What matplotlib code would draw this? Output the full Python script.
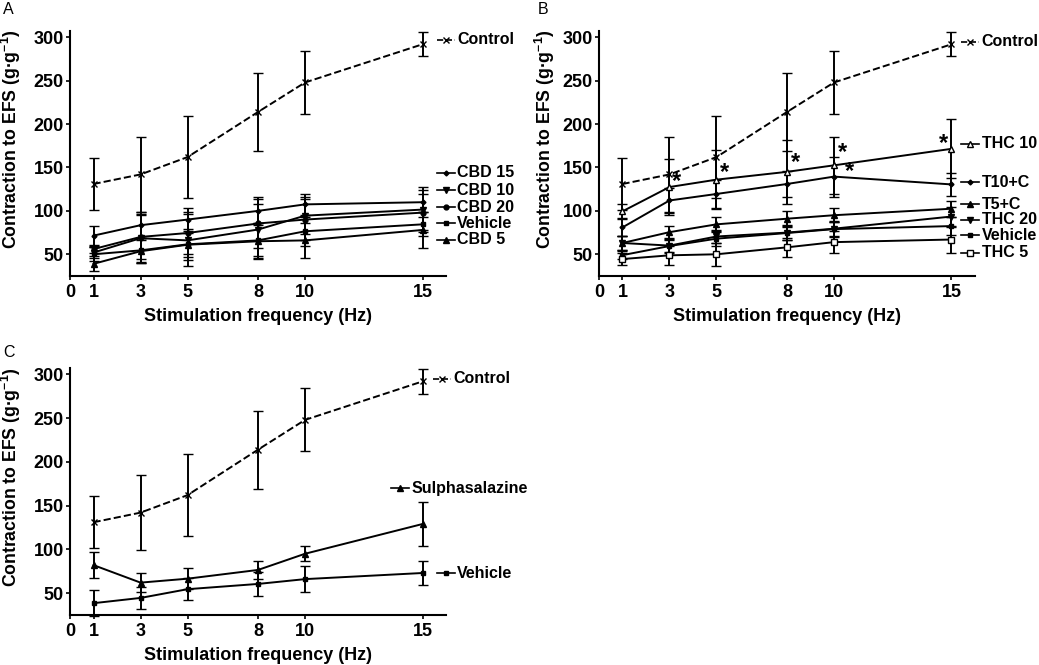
import numpy as np
import matplotlib.pyplot as plt

plt.rcParams['font.family'] = ['Liberation Sans', 'DejaVu Sans']
plt.rcParams['mathtext.fontset'] = 'custom'
plt.rcParams['mathtext.rm'] = 'Liberation Sans:bold'
plt.rcParams['mathtext.bf'] = 'Liberation Sans:bold'
plt.rcParams['mathtext.default'] = 'bf'

# frequencies (Hz)
freq = [1, 3, 5, 8, 10, 15]

# control (same in all panels)
control = [131, 142, 162, 214, 248, 292]
control_err = [29.5, 43, 47, 44.5, 36, 14]

# panel A
cbd15 = [71.5, 83.5, 90, 100, 107.5, 110]
cbd15_err = [11, 15, 13, 16, 12, 17]
cbd10 = [52, 68.5, 66, 78.5, 94.5, 101.5]
cbd10_err = [6, 27, 30, 30, 21, 23]
cbd20 = [56, 70, 74.5, 85.5, 90, 98]
cbd20_err = [4, 26, 24, 28, 24, 22]
veh_a = [50, 54.5, 61.5, 66, 76.5, 84.5]
veh_a_err = [8, 14, 18, 20, 17, 14]
cbd5 = [39, 53.5, 61, 65, 66, 78]
cbd5_err = [8.5, 13, 14, 21, 20, 21]

# panel B
thc10 = [99.5, 127.5, 136, 145, 152.5, 171.5]
thc10_err = [8, 32, 34, 37, 33, 34]
t10c = [81, 112, 119.5, 131, 139.5, 130.5]
t10c_err = [10, 14, 16, 15, 23, 13]
t5c = [63, 75.5, 84.5, 91, 95, 102.5]
t5c_err = [8, 7, 8, 9, 8, 9]
thc20 = [63, 60, 70.5, 75, 79.5, 93.5]
thc20_err = [8, 8, 8, 9, 8, 11]
veh_b = [49, 59.5, 68, 74.5, 79, 82.5]
veh_b_err = [5, 7, 8, 8, 9, 10]
thc5 = [44.5, 48.8, 50, 58, 64, 67]
thc5_err = [7, 11, 13, 11, 13, 15]
# asterisks in B (x, y)
star_x = [3.3, 5.36, 8.38, 10.37, 10.65, 14.64]
star_y = [134, 144.5, 155.5, 167, 145.5, 178]

# panel C
sulpha = [82, 62, 66.5, 76.5, 95, 129]
sulpha_err = [15, 11, 12, 10, 8.5, 25.5]
veh_c = [38.5, 44.5, 54.5, 60.5, 66, 73]
veh_c_err = [14.5, 12.5, 12.5, 13.5, 14.5, 14]

FS = 13
LFS = 11.5
LW = 1.4


def series(ax, y, err, marker, ms=4, mfc='black', ls='-'):
    ax.errorbar(freq, y, yerr=err, color='black', ls=ls, lw=LW, marker=marker,
                ms=ms, mfc=mfc, mec='black', mew=1.0, capsize=3.5,
                elinewidth=1.4, capthick=1.4, clip_on=False)


def key(ax, xk, yv, label, marker, ms=4, mfc='black', ls='-'):
    ax.plot([xk, xk + 0.78], [yv, yv], color='black', ls=ls, lw=1.2, clip_on=False)
    ax.plot([xk + 0.39], [yv], color='black', marker=marker, ms=ms, mfc=mfc,
            mec='black', mew=1.0, clip_on=False)
    ax.text(xk + 0.88, yv, label, ha='left', va='center', fontsize=LFS,
            fontweight='bold')


def style(ax, ylab_x):
    ax.set_xlim(0, 16)
    ax.set_ylim(25, 307)
    ax.set_xticks([0, 1, 3, 5, 8, 10, 15])
    ax.set_yticks([50, 100, 150, 200, 250, 300])
    for s in ['top', 'right']:
        ax.spines[s].set_visible(False)
    for s in ['left', 'bottom']:
        ax.spines[s].set_linewidth(1.5)
    ax.tick_params(width=1.2, length=3, labelsize=FS, pad=1.5)
    ax.tick_params(axis='x', pad=3)
    for t in ax.get_xticklabels() + ax.get_yticklabels():
        t.set_fontweight('bold')
    ax.set_xlabel('Stimulation frequency (Hz)', fontsize=FS,
                  fontweight='bold', labelpad=5)
    ax.set_ylabel(r'Contraction to EFS (g·g$^{-1}$)', fontsize=12.7,
                  fontweight='bold')
    ax.yaxis.set_label_coords(ylab_x, 0.56)


fig = plt.figure(figsize=(10.39, 6.65), dpi=100)
ax_a = fig.add_axes([0.0674, 0.585, 0.3619, 0.368])
ax_b = fig.add_axes([0.5765, 0.585, 0.3619, 0.368])
ax_c = fig.add_axes([0.0674, 0.0752, 0.3619, 0.371])

# A
series(ax_a, control, control_err, 'x', ms=5, ls='--')
series(ax_a, cbd15, cbd15_err, 'D', ms=2.5)
series(ax_a, cbd10, cbd10_err, 'v', ms=4)
series(ax_a, cbd20, cbd20_err, 'o', ms=3.5)
series(ax_a, veh_a, veh_a_err, 's', ms=3.5)
series(ax_a, cbd5, cbd5_err, '^', ms=4)
style(ax_a, -0.124)
key(ax_a, 15.6, 297, 'Control', 'x', ms=4, ls='--')
key(ax_a, 15.6, 144, 'CBD 15', 'D', ms=2.5)
key(ax_a, 15.6, 124, 'CBD 10', 'v', ms=4)
key(ax_a, 15.6, 104, 'CBD 20', 'o', ms=3.5)
key(ax_a, 15.6, 86, 'Vehicle', 's', ms=3.5)
key(ax_a, 15.6, 67, 'CBD 5', '^', ms=4)

# B
series(ax_b, control, control_err, 'x', ms=5, ls='--')
series(ax_b, thc10, thc10_err, '^', ms=5, mfc='white')
series(ax_b, t10c, t10c_err, 'D', ms=2.5)
series(ax_b, t5c, t5c_err, '^', ms=4)
series(ax_b, thc20, thc20_err, 'v', ms=4)
series(ax_b, veh_b, veh_b_err, 's', ms=3.5)
series(ax_b, thc5, thc5_err, 's', ms=5, mfc='white')
for sx, sy in zip(star_x, star_y):
    ax_b.text(sx, sy, '*', ha='center', va='center', fontsize=17,
              fontweight='bold')
style(ax_b, -0.112)
key(ax_b, 15.4, 295, 'Control', 'x', ms=4, ls='--')
key(ax_b, 15.4, 177.5, 'THC 10', '^', ms=5, mfc='white')
key(ax_b, 15.4, 133, 'T10+C', 'D', ms=2.5)
key(ax_b, 15.4, 107.5, 'T5+C', '^', ms=4)
key(ax_b, 15.4, 90, 'THC 20', 'v', ms=4)
key(ax_b, 15.4, 72, 'Vehicle', 's', ms=3.5)
key(ax_b, 15.4, 51.5, 'THC 5', 's', ms=5, mfc='white')

# C
series(ax_c, control, control_err, 'x', ms=5, ls='--')
series(ax_c, sulpha, sulpha_err, '^', ms=4)
series(ax_c, veh_c, veh_c_err, 's', ms=3.5)
style(ax_c, -0.124)
key(ax_c, 15.45, 295, 'Control', 'x', ms=4, ls='--')
key(ax_c, 13.65, 170, 'Sulphasalazine', '^', ms=4)
key(ax_c, 15.6, 72.5, 'Vehicle', 's', ms=3.5)

fig.text(0.003, 0.997, 'A', ha='left', va='top', fontsize=11.5)
fig.text(0.518, 0.997, 'B', ha='left', va='top', fontsize=11.5)
fig.text(0.003, 0.481, 'C', ha='left', va='top', fontsize=11.5)

fig.savefig('out.png', dpi=100)
